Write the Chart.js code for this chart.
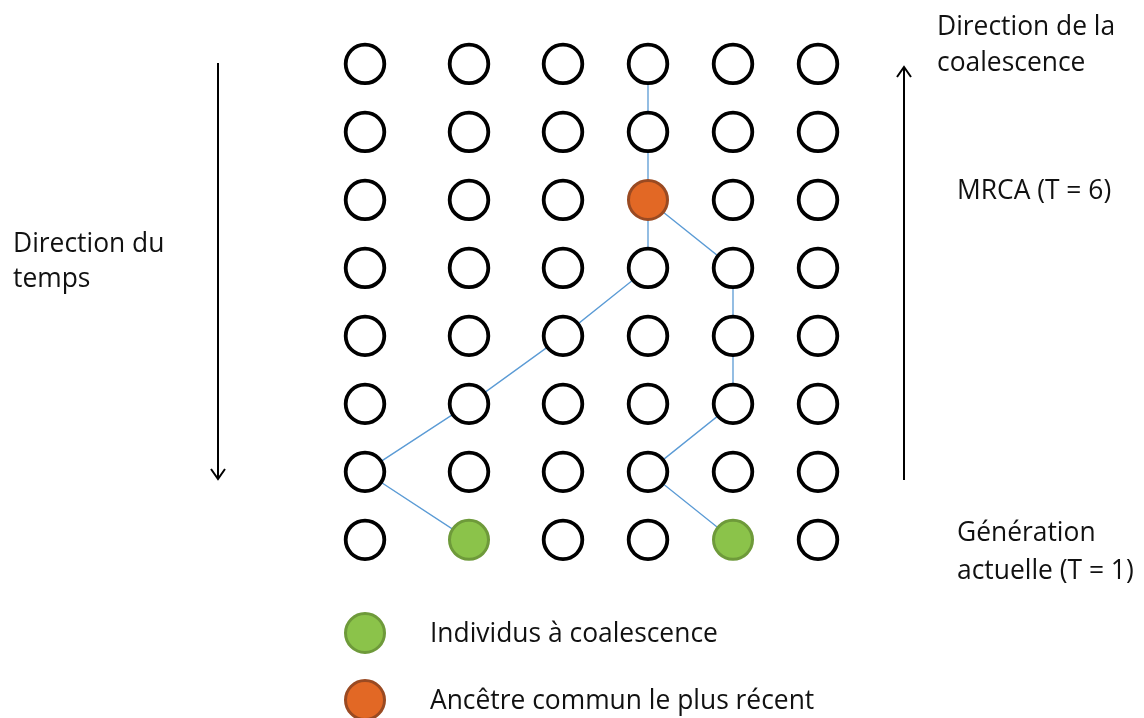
<!DOCTYPE html>
<html><head><meta charset="utf-8">
<script src="https://cdn.jsdelivr.net/npm/chart.js@4"></script>
<style>html,body{margin:0;padding:0;background:#fff;overflow:hidden}#wrap{width:1144px;height:718px;position:relative}</style>
</head><body><div id="wrap"><canvas id="c" width="1144" height="718"></canvas></div>
<script>
// ---- data ----
const individus = [1, 2, 3, 4, 5, 6];
const generations = [1, 2, 3, 4, 5, 6, 7, 8];
// lineages as [individual, generation T]
const lignee1 = [[2, 1], [1, 2], [2, 3], [3, 4], [4, 5], [4, 6], [4, 7], [4, 8]];
const lignee2 = [[5, 1], [4, 2], [5, 3], [5, 4], [5, 5], [4, 6]];
const individusCoalescence = [[2, 1], [5, 1]];
const mrca = [[4, 6]];
const legendLabels = ['Individus à coalescence', 'Ancêtre commun le plus récent'];
const texteTemps = ['Direction du', 'temps'];
const texteCoalescence = ['Direction de la', 'coalescence'];
const texteMrca = ['MRCA (T = 6)'];
const texteActuelle = ['Génération', 'actuelle (T = 1)'];

// ---- layout (x position of each individual column on the x scale) ----
const colonneX = {1: 365, 2: 469, 3: 563, 4: 648, 5: 733, 6: 818};
const isSpecial = (i, t) => individusCoalescence.concat(mrca).some(p => p[0] === i && p[1] === t);
const toPt = p => ({x: colonneX[p[0]], y: p[1]});

const grille = [];
generations.forEach(t => individus.forEach(i => { if (!isSpecial(i, t)) grille.push({x: colonneX[i], y: t}); }));

const GREEN = '#8BC34A', GREEN_B = '#6E9A3A', ORANGE = '#E26825', ORANGE_B = '#9A4A22';
const FONT = '26.4px "Open Sans"';
const TXT = '#111';
const Y_MIN = -1.62, Y_MAX = 8.94;

const decor = {
  id: 'decor',
  afterDatasetsDraw(chart) {
    const ctx = chart.ctx, xs = chart.scales.x, ys = chart.scales.y;
    ctx.save();
    ctx.strokeStyle = '#000'; ctx.lineWidth = 2; ctx.lineCap = 'butt';
    function arrow(x, y0, y1) {
      ctx.beginPath(); ctx.moveTo(x, y0); ctx.lineTo(x, y1); ctx.stroke();
      const d = y1 > y0 ? -1 : 1;
      ctx.beginPath(); ctx.moveTo(x - 7, y1 + d * 10); ctx.lineTo(x, y1); ctx.lineTo(x + 7, y1 + d * 10); ctx.stroke();
    }
    const py = px => ys.getPixelForValue(Y_MAX - px * (Y_MAX - Y_MIN) / 718);
    arrow(xs.getPixelForValue(218), py(63), py(479));
    arrow(xs.getPixelForValue(904), py(480), py(67));

    ctx.font = FONT; ctx.fillStyle = TXT; ctx.textBaseline = 'alphabetic'; ctx.textAlign = 'left';
    const put = (lines, x, ys0, step) => lines.forEach((s, k) => ctx.fillText(s, x, ys0 + k * step));
    put(texteTemps, 13, 252, 35);
    put(texteCoalescence, 937, 35, 36);
    put(texteMrca, 957, 199, 0);
    put(texteActuelle, 957, 541, 38);

    const leg = [[GREEN, GREEN_B, 633], [ORANGE, ORANGE_B, 700]];
    leg.forEach((l, k) => {
      ctx.beginPath(); ctx.arc(xs.getPixelForValue(colonneX[1]), l[2], 19.5, 0, Math.PI * 2);
      ctx.fillStyle = l[0]; ctx.fill(); ctx.lineWidth = 3; ctx.strokeStyle = l[1]; ctx.stroke();
      ctx.fillStyle = TXT; ctx.fillText(legendLabels[k], 430, l[2] + 9);
    });
    ctx.restore();
  }
};

new Chart(document.getElementById('c'), {
  type: 'scatter',
  data: {
    datasets: [
      {label: 'coalescence', data: individusCoalescence.map(toPt), pointRadius: 19.5, backgroundColor: GREEN, borderColor: GREEN_B, borderWidth: 3, order: 0},
      {label: 'mrca', data: mrca.map(toPt), pointRadius: 19.5, backgroundColor: ORANGE, borderColor: ORANGE_B, borderWidth: 3, order: 0},
      {label: 'grille', data: grille, pointRadius: 19.3, backgroundColor: '#fff', borderColor: '#000', borderWidth: 3.8, order: 1},
      {label: 'lignée 1', data: lignee1.map(toPt), showLine: true, pointRadius: 0, borderColor: '#5B9BD5', borderWidth: 1.3, tension: 0, order: 2},
      {label: 'lignée 2', data: lignee2.map(toPt), showLine: true, pointRadius: 0, borderColor: '#5B9BD5', borderWidth: 1.3, tension: 0, order: 2}
    ]
  },
  options: {
    responsive: false, animation: false,
    layout: {padding: 0, autoPadding: false},
    plugins: {legend: {display: false}, tooltip: {enabled: false}},
    events: [],
    scales: {
      x: {type: 'linear', display: false, min: 0, max: 1144},
      y: {type: 'linear', display: false, min: Y_MIN, max: Y_MAX}
    }
  },
  plugins: [decor]
});
</script></body></html>
